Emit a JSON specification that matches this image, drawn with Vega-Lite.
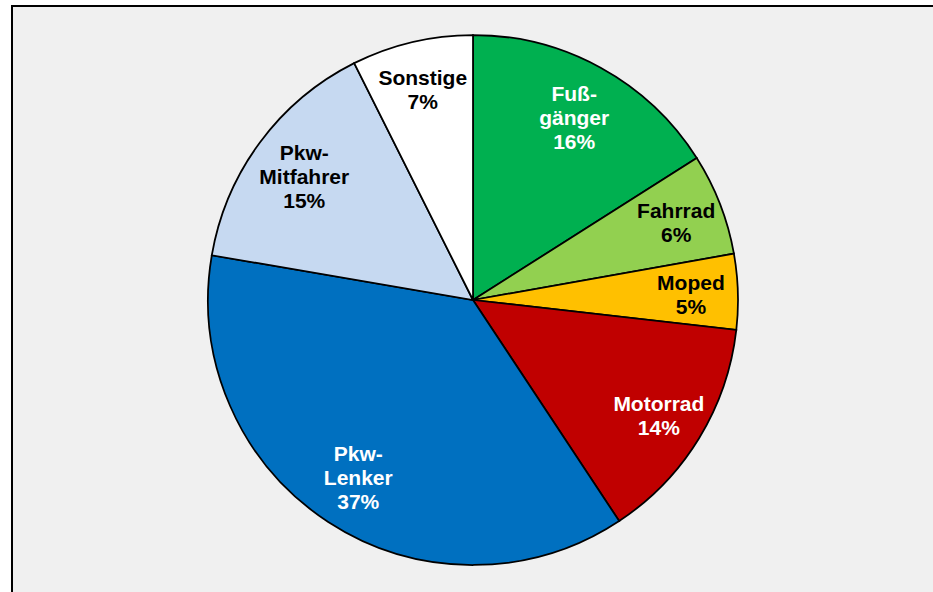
{
  "$schema": "https://vega.github.io/schema/vega-lite/v6.json",
  "width": 922,
  "height": 588,
  "autosize": {"type": "none"},
  "padding": {"left": 12, "top": 6, "right": -1, "bottom": -2},
  "background": "#ffffff",
  "view": {"fill": "#f0f0f0", "stroke": "#000000", "strokeWidth": 2},
  "config": {
    "view": {"fill": "#f0f0f0", "stroke": "#000000", "strokeWidth": 2}
  },
  "data": {
    "values": [
      {"idx": 1, "category": "Fußgänger", "value": 16.0, "label": "Fuß-\ngänger\n16%"},
      {"idx": 2, "category": "Fahrrad", "value": 6.2, "label": "Fahrrad\n6%"},
      {"idx": 3, "category": "Moped", "value": 4.6, "label": "Moped\n5%"},
      {"idx": 4, "category": "Motorrad", "value": 13.9, "label": "Motorrad\n14%"},
      {"idx": 5, "category": "Pkw-Lenker", "value": 37.0, "label": "Pkw-\nLenker\n37%"},
      {"idx": 6, "category": "Pkw-Mitfahrer", "value": 14.9, "label": "Pkw-\nMitfahrer\n15%"},
      {"idx": 7, "category": "Sonstige", "value": 7.4, "label": "Sonstige\n7%"}
    ]
  },
  "layer": [
    {
      "mark": {"type": "point", "opacity": 0},
      "encoding": {
        "x": {"field": "idx", "type": "quantitative", "axis": null},
        "y": {"field": "value", "type": "quantitative", "axis": null}
      }
    },
    {
      "mark": {"type": "arc", "radius": 265, "stroke": "#000000", "strokeWidth": 1.75},
      "encoding": {
        "theta": {"field": "value", "type": "quantitative", "stack": true},
        "order": {"field": "idx", "type": "quantitative"},
        "color": {
          "field": "category",
          "type": "nominal",
          "scale": {
            "domain": ["Fußgänger", "Fahrrad", "Moped", "Motorrad", "Pkw-Lenker", "Pkw-Mitfahrer", "Sonstige"],
            "range": ["#00B050", "#92D050", "#FFC000", "#C00000", "#0070C0", "#C6D9F1", "#FFFFFF"]
          },
          "legend": null
        }
      }
    },
    {
      "mark": {
        "type": "text",
        "radius": 218,
        "dy": -9,
        "font": "Liberation Sans",
        "fontWeight": "bold",
        "fontSize": 21,
        "lineHeight": 24,
        "lineBreak": "\n",
        "align": "center",
        "baseline": "middle"
      },
      "encoding": {
        "theta": {"field": "value", "type": "quantitative", "stack": true},
        "order": {"field": "idx", "type": "quantitative"},
        "text": {"field": "label", "type": "nominal"},
        "opacity": {
          "condition": {"test": "indexof(datum.label, '\\n') == lastindexof(datum.label, '\\n')", "value": 1},
          "value": 0
        },
        "color": {
          "condition": {"test": "indexof(['Fußgänger','Motorrad','Pkw-Lenker'], datum.category) >= 0", "value": "#ffffff"},
          "value": "#000000"
        }
      }
    },
    {
      "mark": {
        "type": "text",
        "radius": 210,
        "dy": -21,
        "font": "Liberation Sans",
        "fontWeight": "bold",
        "fontSize": 21,
        "lineHeight": 24,
        "lineBreak": "\n",
        "align": "center",
        "baseline": "middle"
      },
      "encoding": {
        "theta": {"field": "value", "type": "quantitative", "stack": true},
        "order": {"field": "idx", "type": "quantitative"},
        "text": {"field": "label", "type": "nominal"},
        "opacity": {
          "condition": {"test": "indexof(datum.label, '\\n') != lastindexof(datum.label, '\\n')", "value": 1},
          "value": 0
        },
        "color": {
          "condition": {"test": "indexof(['Fußgänger','Motorrad','Pkw-Lenker'], datum.category) >= 0", "value": "#ffffff"},
          "value": "#000000"
        }
      }
    }
  ]
}
